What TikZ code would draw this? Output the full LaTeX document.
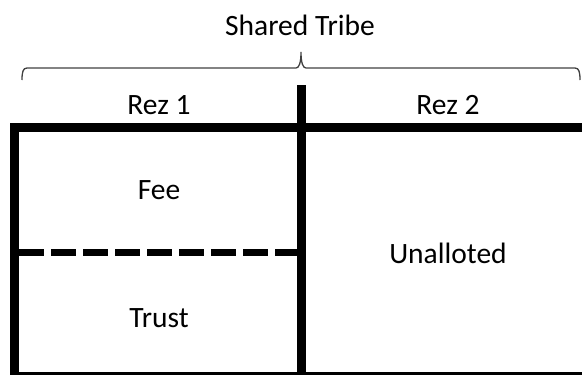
\documentclass[tikz,border=0pt]{standalone}
\usepackage{fontspec}
\setmainfont{Carlito}
\usetikzlibrary{calc}
\tikzset{lbl/.style={anchor=base,inner sep=0pt,font=\fontsize{29.5}{35}\selectfont},
  wall/.style={line width=9pt},
  brace/.style={line width=1.3pt,draw=black!75}}
\begin{document}
\begin{tikzpicture}[x=1pt,y=-1pt]
      \useasboundingbox (0,0) rectangle (582,375);
      \node[lbl] (tribe) at (300,35) {Shared Tribe};
      \draw[brace] (22,80) .. controls (22,72) and (23,68) .. (27,68)--(296,68)
        .. controls (299,68) and (301,63) .. (301,52)
        .. controls (301,63) and (303,68) .. (306,68)--(575,68)
        .. controls (579,68) and (580,72) .. (580,80);
      \node[lbl] (rez1) at (159,114) {Rez 1};
      \node[lbl] (rez2) at (448,114) {Rez 2};
      \draw[wall](10,127)--(582,127);
      \draw[wall](14.5,123)--(14.5,380);
      \draw[wall](301.5,85)--(301.5,380);
      \draw[wall](10,376.5)--(582,376.5);
      \draw[line width=7pt,dash pattern=on 25pt off 7pt](19,252.5)--(297,252.5);
      \node[lbl] (fee) at (159,199) {Fee};
      \node[lbl] (trust) at (159,327) {Trust};
      \node[lbl] (unalloted) at (448,263) {Unalloted};
    \end{tikzpicture}
\end{document}
